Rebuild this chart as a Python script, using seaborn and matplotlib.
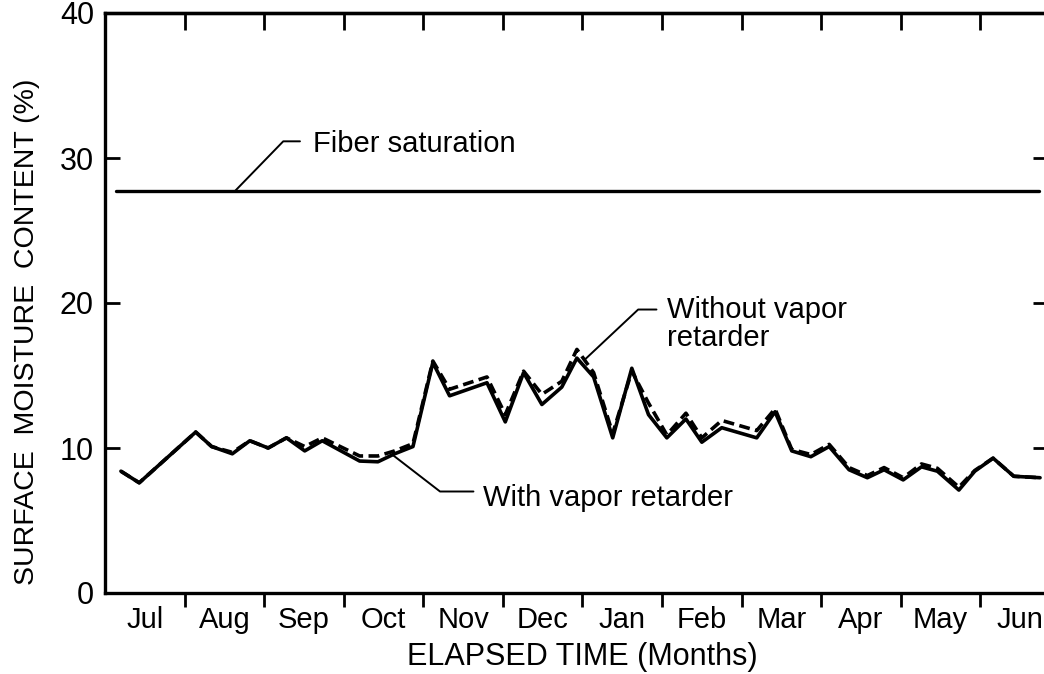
import numpy as np
import pandas as pd
import seaborn as sns
import matplotlib
matplotlib.use("Agg")
import matplotlib.pyplot as plt

# ---- data ----
months = ["Jul", "Aug", "Sep", "Oct", "Nov", "Dec",
          "Jan", "Feb", "Mar", "Apr", "May", "Jun"]

# elapsed time in months from 1 July
time_months = [0.20, 0.43, 1.14, 1.34, 1.60, 1.82, 2.05, 2.28, 2.51, 2.73,
               3.20, 3.43, 3.64, 3.87, 4.12, 4.33, 4.80, 5.03, 5.26, 5.49,
               5.74, 5.93, 6.14, 6.38, 6.62, 6.83, 7.06, 7.30, 7.50, 7.75,
               8.19, 8.42, 8.63, 8.87, 9.10, 9.35, 9.58, 9.79, 10.03, 10.26,
               10.46, 10.73, 10.93, 11.16, 11.42, 11.75]

with_retarder = [8.4, 7.6, 11.1, 10.1, 9.6, 10.5, 10.0, 10.7, 9.8, 10.5,
                 9.1, 9.05, 9.6, 10.1, 15.9, 13.6, 14.5, 11.8, 15.2, 13.0,
                 14.2, 16.2, 14.9, 10.7, 15.5, 12.3, 10.7, 12.0, 10.4, 11.4,
                 10.7, 12.5, 9.8, 9.4, 10.1, 8.5, 7.95, 8.5, 7.8, 8.7,
                 8.4, 7.1, 8.4, 9.3, 8.05, 7.95]

without_retarder = [8.4, 7.6, 11.1, 10.1, 9.7, 10.5, 10.0, 10.7, 10.1, 10.7,
                    9.45, 9.45, 9.8, 10.3, 16.0, 14.05, 14.9, 12.3, 15.3, 13.7,
                    14.6, 16.8, 15.2, 11.0, 15.3, 13.1, 10.9, 12.4, 10.7, 11.9,
                    11.2, 12.7, 9.9, 9.55, 10.25, 8.65, 8.1, 8.65, 7.95, 8.9,
                    8.6, 7.3, 8.45, 9.3, 8.05, 7.95]

fiber_saturation = 27.7

y_ticks = [0, 10, 20, 30, 40]

# ---- style ----
sns.set_style("ticks")
plt.rcParams["font.family"] = ["Liberation Sans", "DejaVu Sans"]
plt.rcParams["text.color"] = "black"
plt.rcParams["axes.labelcolor"] = "black"
plt.rcParams["xtick.color"] = "black"
plt.rcParams["ytick.color"] = "black"
FS = 21

fig = plt.figure(figsize=(10.44, 6.74), dpi=100)
ax = fig.add_axes([105 / 1044, 1 - 593 / 674, 943 / 1044, 580 / 674])

df = pd.DataFrame({
    "time": time_months * 2,
    "mc": with_retarder + without_retarder,
    "series": ["With vapor retarder"] * len(time_months)
              + ["Without vapor retarder"] * len(time_months),
})

sns.lineplot(data=df, x="time", y="mc", style="series",
             dashes={"With vapor retarder": "", "Without vapor retarder": (3, 1.5)},
             color="black", linewidth=2.6, legend=False, sort=False, ax=ax)

ax.axhline(fiber_saturation, xmin=11 / 943, xmax=0.99, color="black", lw=2.4)

ax.set_xlim(0, 11.85)
ax.set_ylim(0, 40)

# x: month boundaries as ticks, names centred in each month
ax.set_xticks(np.arange(1, 12))
ax.set_xticklabels([])
ax.set_xticks(np.arange(12) + 0.5, minor=True)
ax.set_xticklabels(months, minor=True, fontsize=FS)
ax.tick_params(axis="x", which="major", direction="out", length=10,
               width=2, bottom=True, top=False)
ax.tick_params(axis="x", which="minor", length=0, pad=9)

top = ax.secondary_xaxis("top")
top.set_xticks(np.arange(1, 12))
top.set_xticklabels([])
top.tick_params(direction="in", length=12, width=2)
top.spines["top"].set_linewidth(2.4)

ax.set_yticks(y_ticks)
ax.set_yticklabels([str(v) for v in y_ticks], fontsize=22)
ax.tick_params(axis="y", direction="in", left=True, right=True,
               length=11, width=2, pad=8)

for s in ax.spines.values():
    s.set_linewidth(2.4)
    s.set_color("black")

ax.set_xlabel("ELAPSED TIME (Months)", fontsize=22)
ax.xaxis.set_label_coords(0.506, -0.085)
ax.set_ylabel("SURFACE  MOISTURE  CONTENT (%)", fontsize=20.5)
ax.yaxis.set_label_coords(-0.069, 0.45)

# ---- callouts ----
lw_lead = 1.4
ax.plot([1.633, 2.24, 2.45], [27.72, 31.15, 31.15], color="black", lw=lw_lead)
ax.text(2.61, 30.43, "Fiber saturation", fontsize=FS, va="baseline", ha="left")

ax.plot([3.62, 4.21, 4.63], [9.5, 7.0, 7.0], color="black", lw=lw_lead)
ax.text(4.75, 6.0, "With vapor retarder", fontsize=FS, va="baseline", ha="left")

ax.plot([6.03, 6.70, 6.93], [16.1, 19.55, 19.55], color="black", lw=lw_lead)
ax.text(7.06, 19.0, "Without vapor", fontsize=FS, va="baseline", ha="left")
ax.text(7.06, 17.0, "retarder", fontsize=FS, va="baseline", ha="left")

fig.savefig("out.png", dpi=100)
